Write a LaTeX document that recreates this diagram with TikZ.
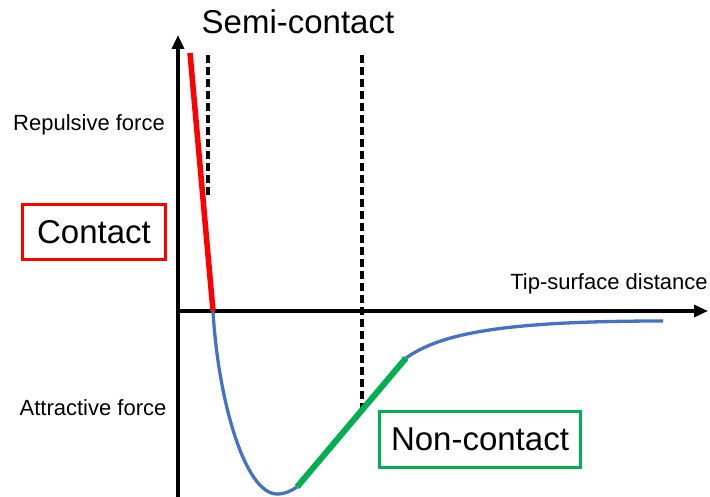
\documentclass[tikz,border=0pt]{standalone}
\usepackage{fontspec}
\setmainfont{Liberation Sans}
\usetikzlibrary{arrows.meta}
\definecolor{offblue}{RGB}{68,114,196}
\definecolor{offgreen}{RGB}{0,176,80}
\definecolor{offred}{RGB}{255,0,0}
\tikzset{
  axisline/.style={line width=3.4pt,-{Triangle[length=14pt,width=12pt]}},
  guide/.style={line width=3.2pt,dash pattern=on 8pt off 4pt},
  curveline/.style={offblue,line width=3.3pt},
  bigbox/.style={line width=3pt,inner xsep=12pt,minimum height=55pt,font=\fontsize{33}{38}\selectfont},
  smalltxt/.style={font=\fontsize{22}{26}\selectfont},
  bigtxt/.style={font=\fontsize{33}{38}\selectfont}
}
\begin{document}
\begin{tikzpicture}[x=1pt,y=-1pt]
\useasboundingbox (0,0) rectangle (710,497);
% axes
\coordinate (o) at (177,311);
\coordinate (ybot) at (178,497);
\coordinate (ytop) at (178,35);
\coordinate (xend) at (708,311);
\draw[axisline] (ybot) -- (ytop);
\draw[axisline] (o) -- (xend);
% dashed guides
\coordinate (d1a) at (208,55);
\coordinate (d1b) at (208,195);
\coordinate (d2a) at (362,55);
\coordinate (d2b) at (362,410);
\draw[guide] (d1a) -- (d1b);
\draw[guide] (d2a) -- (d2b);
% blue curve
\coordinate (r2) at (213,311);
\coordinate (cmin) at (277,494);
\coordinate (g1) at (297,487);
\coordinate (g2) at (406,358);
\coordinate (cend) at (663,321);
\draw[curveline] (r2) .. controls (218,400) and (245,494) .. (cmin)
  .. controls (285,494) and (291,491) .. (g1);
\draw[curveline] (g2) .. controls (440,334) and (500,321) .. (cend);
% red and green segments
\coordinate (r1) at (190,53);
\draw[offred,line width=5.5pt] (r1) -- (r2);
\draw[offgreen,line width=6pt] (g1) -- (g2);
% labels
\node[bigtxt] (semi) at (298,22) {Semi-contact};
\node[smalltxt] (rep) at (89,125) {Repulsive force};
\node[smalltxt] (att) at (93,408) {Attractive force};
\node[smalltxt] (tip) at (609,284) {Tip-surface distance};
\node[bigbox,draw=offred,minimum width=143pt] (contact) at (94,232.5) {Contact};
\node[bigbox,draw=offgreen,minimum width=196pt,minimum height=56pt] (noncontact) at (480,439) {Non-contact};
\end{tikzpicture}
\end{document}
